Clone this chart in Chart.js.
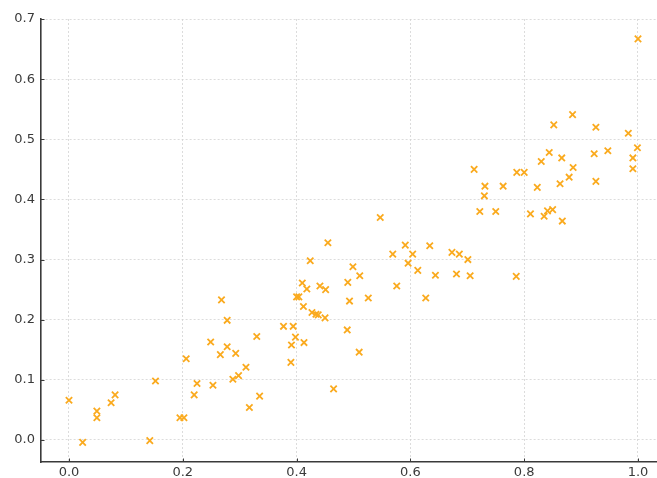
<!DOCTYPE html>
<html>
<head>
<meta charset="utf-8">
<script src="https://cdn.jsdelivr.net/npm/chart.js@4"></script>
<style>
  html, body { margin: 0; padding: 0; background: #ffffff; }
  #wrap { width: 657px; height: 478px; position: relative; }
</style>
</head>
<body>
<div id="wrap"><canvas id="c" width="657" height="478"></canvas></div>
<script>
// Data
const xValues = [
  0.000, 0.024, 0.049, 0.049, 0.074, 0.081, 0.152, 0.142, 0.195, 0.202,
  0.206, 0.220, 0.225, 0.253, 0.249, 0.268, 0.278, 0.266, 0.278, 0.293,
  0.288, 0.298, 0.311, 0.317, 0.330, 0.335, 0.465, 0.377, 0.394, 0.398,
  0.391, 0.390, 0.413, 0.400, 0.404, 0.410, 0.418, 0.424, 0.412, 0.427,
  0.434, 0.438, 0.450, 0.441, 0.451, 0.455, 0.489, 0.510, 0.490, 0.499,
  0.511, 0.493, 0.526, 0.547, 0.569, 0.576, 0.591, 0.604, 0.596, 0.613,
  0.627, 0.634, 0.644, 0.673, 0.686, 0.681, 0.701, 0.705, 1.000, 0.885,
  0.852, 0.926, 0.983, 0.999, 0.947, 0.923, 0.844, 0.866, 0.830, 0.991,
  0.991, 0.886, 0.879, 0.863, 0.926, 0.787, 0.800, 0.763, 0.823, 0.712,
  0.731, 0.730, 0.722, 0.750, 0.811, 0.835, 0.841, 0.850, 0.867, 0.786
];
const yValues = [
  0.066, -0.004, 0.048, 0.037, 0.062, 0.075, 0.098, -0.001, 0.037, 0.037,
  0.135, 0.075, 0.094, 0.091, 0.163, 0.233, 0.199, 0.142, 0.155, 0.144,
  0.101, 0.107, 0.121, 0.054, 0.172, 0.073, 0.085, 0.189, 0.189, 0.171,
  0.158, 0.129, 0.162, 0.238, 0.238, 0.261, 0.251, 0.298, 0.222, 0.212,
  0.209, 0.208, 0.203, 0.256, 0.250, 0.328, 0.183, 0.146, 0.262, 0.288,
  0.273, 0.231, 0.236, 0.370, 0.309, 0.256, 0.324, 0.309, 0.294, 0.282,
  0.236, 0.323, 0.274, 0.312, 0.309, 0.276, 0.300, 0.273, 0.667, 0.541,
  0.524, 0.520, 0.510, 0.486, 0.481, 0.476, 0.478, 0.469, 0.463, 0.469,
  0.451, 0.453, 0.437, 0.426, 0.430, 0.445, 0.445, 0.422, 0.420, 0.450,
  0.422, 0.406, 0.380, 0.380, 0.376, 0.372, 0.381, 0.383, 0.364, 0.272
];
const xTicks = [0.0, 0.2, 0.4, 0.6, 0.8, 1.0];
const yTicks = [0.0, 0.1, 0.2, 0.3, 0.4, 0.5, 0.6, 0.7];

const points = xValues.map((x, i) => ({ x: x, y: yValues[i] }));

const gridStyle = { color: '#d4d4d4', lineWidth: 0.8, drawTicks: false };
const borderStyle = { display: true, color: '#3a3a3a', width: 1.6, dash: [2, 2] };

// small inward tick marks like the reference
const inwardTicks = {
  id: 'inwardTicks',
  afterDraw(chart) {
    const { ctx, chartArea, scales } = chart;
    ctx.save();
    ctx.strokeStyle = '#3a3a3a';
    ctx.lineWidth = 1;
    ctx.beginPath();
    xTicks.forEach(v => {
      const px = Math.round(scales.x.getPixelForValue(v)) + 0.5;
      ctx.moveTo(px, chartArea.bottom);
      ctx.lineTo(px, chartArea.bottom - 3.5);
    });
    yTicks.forEach(v => {
      const py = Math.round(scales.y.getPixelForValue(v)) + 0.5;
      ctx.moveTo(chartArea.left, py);
      ctx.lineTo(chartArea.left + 3.5, py);
    });
    ctx.stroke();
    ctx.restore();
  }
};

new Chart(document.getElementById('c'), {
  type: 'scatter',
  data: {
    datasets: [{
      data: points,
      pointStyle: 'crossRot',
      pointRadius: 4.5,
      pointHoverRadius: 4.5,
      borderColor: '#FAAA1E',
      backgroundColor: '#FAAA1E',
      pointBorderWidth: 1.8,
      clip: false
    }]
  },
  options: {
    responsive: false,
    animation: false,
    events: [],
    layout: { autoPadding: false, padding: { top: 19, left: 0, right: 0, bottom: 0 } },
    plugins: { legend: { display: false }, tooltip: { enabled: false }, title: { display: false } },
    scales: {
      x: {
        type: 'linear',
        min: -0.0492,
        max: 1.0334,
        afterBuildTicks: (s) => { s.ticks = xTicks.map(v => ({ value: v })); },
        afterFit: (s) => { s.height = 16; s.paddingLeft = 0; s.paddingRight = 0; },
        grid: Object.assign({}, gridStyle),
        border: Object.assign({}, borderStyle),
        ticks: {
          padding: 3,
          color: '#3a3a3a',
          font: { family: 'DejaVu Sans', size: 13 },
          maxRotation: 0,
          callback: (v) => Number(v).toFixed(1)
        }
      },
      y: {
        type: 'linear',
        min: -0.0366,
        max: 0.70,
        afterBuildTicks: (s) => { s.ticks = yTicks.map(v => ({ value: v })); },
        afterFit: (s) => { s.width = 41; s.paddingTop = 0; s.paddingBottom = 0; },
        grid: Object.assign({}, gridStyle),
        border: Object.assign({}, borderStyle),
        ticks: {
          padding: 6,
          color: '#3a3a3a',
          font: { family: 'DejaVu Sans', size: 13 },
          callback: (v) => Number(v).toFixed(1)
        }
      }
    }
  },
  plugins: [inwardTicks]
});
</script>
</body>
</html>
